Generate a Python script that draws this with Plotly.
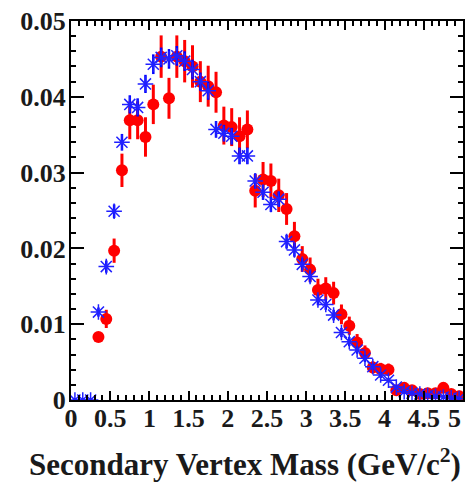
import plotly.graph_objects as go

# Data (red points, with errors)
data_x = [0.35, 0.45, 0.55, 0.65, 0.75, 0.85, 0.95, 1.05, 1.15, 1.25,
          1.35, 1.45, 1.55, 1.65, 1.75, 1.85, 1.95, 2.05, 2.15, 2.25,
          2.35, 2.45, 2.55, 2.65, 2.75, 2.85, 2.95, 3.05, 3.15, 3.25,
          3.35, 3.45, 3.55, 3.65, 3.75, 3.85, 3.95, 4.05, 4.15, 4.25,
          4.35, 4.45, 4.55, 4.65, 4.75, 4.85, 4.95]
data_y = [0.0083, 0.0107, 0.0197, 0.0303, 0.0369, 0.0369, 0.0347, 0.0390, 0.0453, 0.0398,
          0.0453, 0.0447, 0.0440, 0.0420, 0.0414, 0.0406, 0.0362, 0.0360, 0.0348, 0.0357,
          0.0276, 0.0291, 0.0289, 0.0270, 0.0252, 0.0216, 0.0186, 0.0172, 0.0145, 0.0147,
          0.0141, 0.0113, 0.0098, 0.0076, 0.0062, 0.0043, 0.0041, 0.0040, 0.0013, 0.0016,
          0.0013, 0.0008, 0.0009, 0.0009, 0.0016, 0.0008, 0.0005]
data_err = [0.0006, 0.0012, 0.0016, 0.0022, 0.0025, 0.0025, 0.0026, 0.0026, 0.0028, 0.0027,
            0.0028, 0.0028, 0.0028, 0.0027, 0.0027, 0.0027, 0.0025, 0.0025, 0.0025, 0.0025,
            0.0022, 0.0023, 0.0023, 0.0022, 0.0021, 0.0019, 0.0017, 0.0016, 0.0015, 0.0015,
            0.0015, 0.0013, 0.0012, 0.0011, 0.0010, 0.0008, 0.0008, 0.0008, 0.0005, 0.0005,
            0.0005, 0.0004, 0.0004, 0.0004, 0.0005, 0.0004, 0.0003]

# Simulation (blue asterisks, with errors)
mc_x = [0.05, 0.15, 0.25, 0.35, 0.45, 0.55, 0.65, 0.75, 0.85, 0.95,
        1.05, 1.15, 1.25, 1.35, 1.45, 1.55, 1.65, 1.75, 1.85, 1.95,
        2.05, 2.15, 2.25, 2.35, 2.45, 2.55, 2.65, 2.75, 2.85, 2.95,
        3.05, 3.15, 3.25, 3.35, 3.45, 3.55, 3.65, 3.75, 3.85, 3.95,
        4.05, 4.15, 4.25, 4.35, 4.45, 4.55, 4.65, 4.75, 4.85, 4.95]
mc_y = [0.0, 0.0, 0.0, 0.0116, 0.0176, 0.0249, 0.0340, 0.0390, 0.0386, 0.0417,
        0.0443, 0.0452, 0.0450, 0.0454, 0.0447, 0.0436, 0.0420, 0.0408, 0.0357, 0.0352,
        0.0348, 0.0322, 0.0322, 0.0289, 0.0274, 0.0258, 0.0265, 0.0209, 0.0198, 0.0179,
        0.0163, 0.0132, 0.0126, 0.0112, 0.0089, 0.0077, 0.0066, 0.0055, 0.0044, 0.0033,
        0.0026, 0.0017, 0.0011, 0.0009, 0.0008, 0.0006, 0.0005, 0.0004, 0.0003, 0.0002]
mc_err = [0.0, 0.0, 0.0, 0.0006, 0.0008, 0.0009, 0.0011, 0.0012, 0.0012, 0.0012,
          0.0013, 0.0013, 0.0013, 0.0013, 0.0013, 0.0013, 0.0012, 0.0012, 0.0011, 0.0011,
          0.0011, 0.0011, 0.0011, 0.0010, 0.0010, 0.0010, 0.0010, 0.0009, 0.0009, 0.0008,
          0.0008, 0.0007, 0.0007, 0.0007, 0.0006, 0.0006, 0.0005, 0.0005, 0.0004, 0.0004,
          0.0003, 0.0003, 0.0002, 0.0002, 0.0002, 0.0002, 0.0001, 0.0001, 0.0001, 0.0001]

x_tickvals = [0, 0.5, 1, 1.5, 2, 2.5, 3, 3.5, 4, 4.5, 5]
x_ticktext = ["0", "0.5", "1", "1.5", "2", "2.5", "3", "3.5", "4", "4.5", "5"]
y_tickvals = [0, 0.01, 0.02, 0.03, 0.04, 0.05]
y_ticktext = ["0", "0.01", "0.02", "0.03", "0.04", "0.05"]
x_title = "Secondary Vertex Mass (GeV/c<sup>2</sup>)"

FONT = "Liberation Serif"
TICK_FONT = dict(family=FONT, size=26, color="#1a1a1a", weight="bold")

fig = go.Figure()
fig.add_trace(go.Scatter(
    x=data_x, y=data_y, mode="markers",
    marker=dict(symbol="circle", size=12, color="#ff0000"),
    error_y=dict(type="data", array=data_err, color="#ff0000", thickness=3, width=0),
    showlegend=False,
))
fig.add_trace(go.Scatter(
    x=mc_x, y=mc_y, mode="markers",
    marker=dict(symbol="asterisk-open", size=13, color="#2020ff",
                line=dict(color="#3030ff", width=1.5)),
    error_y=dict(type="data", array=mc_err, color="#0000ff", thickness=2.5, width=0),
    showlegend=False,
))

axis_common = dict(
    showline=True, linecolor="black", linewidth=2, mirror="allticks",
    ticks="inside", tickcolor="black", tickwidth=2,
    showgrid=False, zeroline=False,
    tickfont=TICK_FONT,
)

# the last x label sits at the right page edge; it is drawn as a right-anchored
# annotation so that it stays fully visible
fig.update_xaxes(
    range=[0, 5.0005], tickmode="array", tickvals=x_tickvals[:-1], ticktext=x_ticktext[:-1],
    ticklen=9, ticklabelstandoff=-6,
    minor=dict(dtick=0.1, ticks="inside", ticklen=5, tickcolor="black", tickwidth=2, showgrid=False),
    **axis_common,
)
fig.update_yaxes(
    range=[0, 0.05], tickmode="array", tickvals=y_tickvals, ticktext=y_ticktext,
    ticklen=13, ticklabelstandoff=-2,
    minor=dict(dtick=0.002, ticks="inside", ticklen=5, tickcolor="black", tickwidth=2, showgrid=False),
    **axis_common,
)

fig.add_annotation(
    text=x_ticktext[-1], xref="paper", yref="paper",
    x=1.0, y=0.0, xanchor="right", yanchor="top", yshift=-2, showarrow=False,
    font=TICK_FONT,
)
fig.add_annotation(
    text=x_title, xref="paper", yref="paper",
    x=0.445, y=-0.165, xanchor="center", yanchor="middle", showarrow=False,
    font=dict(family=FONT, size=31, color="#1a1a1a", weight="bold"),
)

fig.update_layout(
    width=465, height=482,
    margin=dict(l=71, r=2, t=21, b=82, autoexpand=False),
    plot_bgcolor="white", paper_bgcolor="white",
)

fig.write_html("out.html")
